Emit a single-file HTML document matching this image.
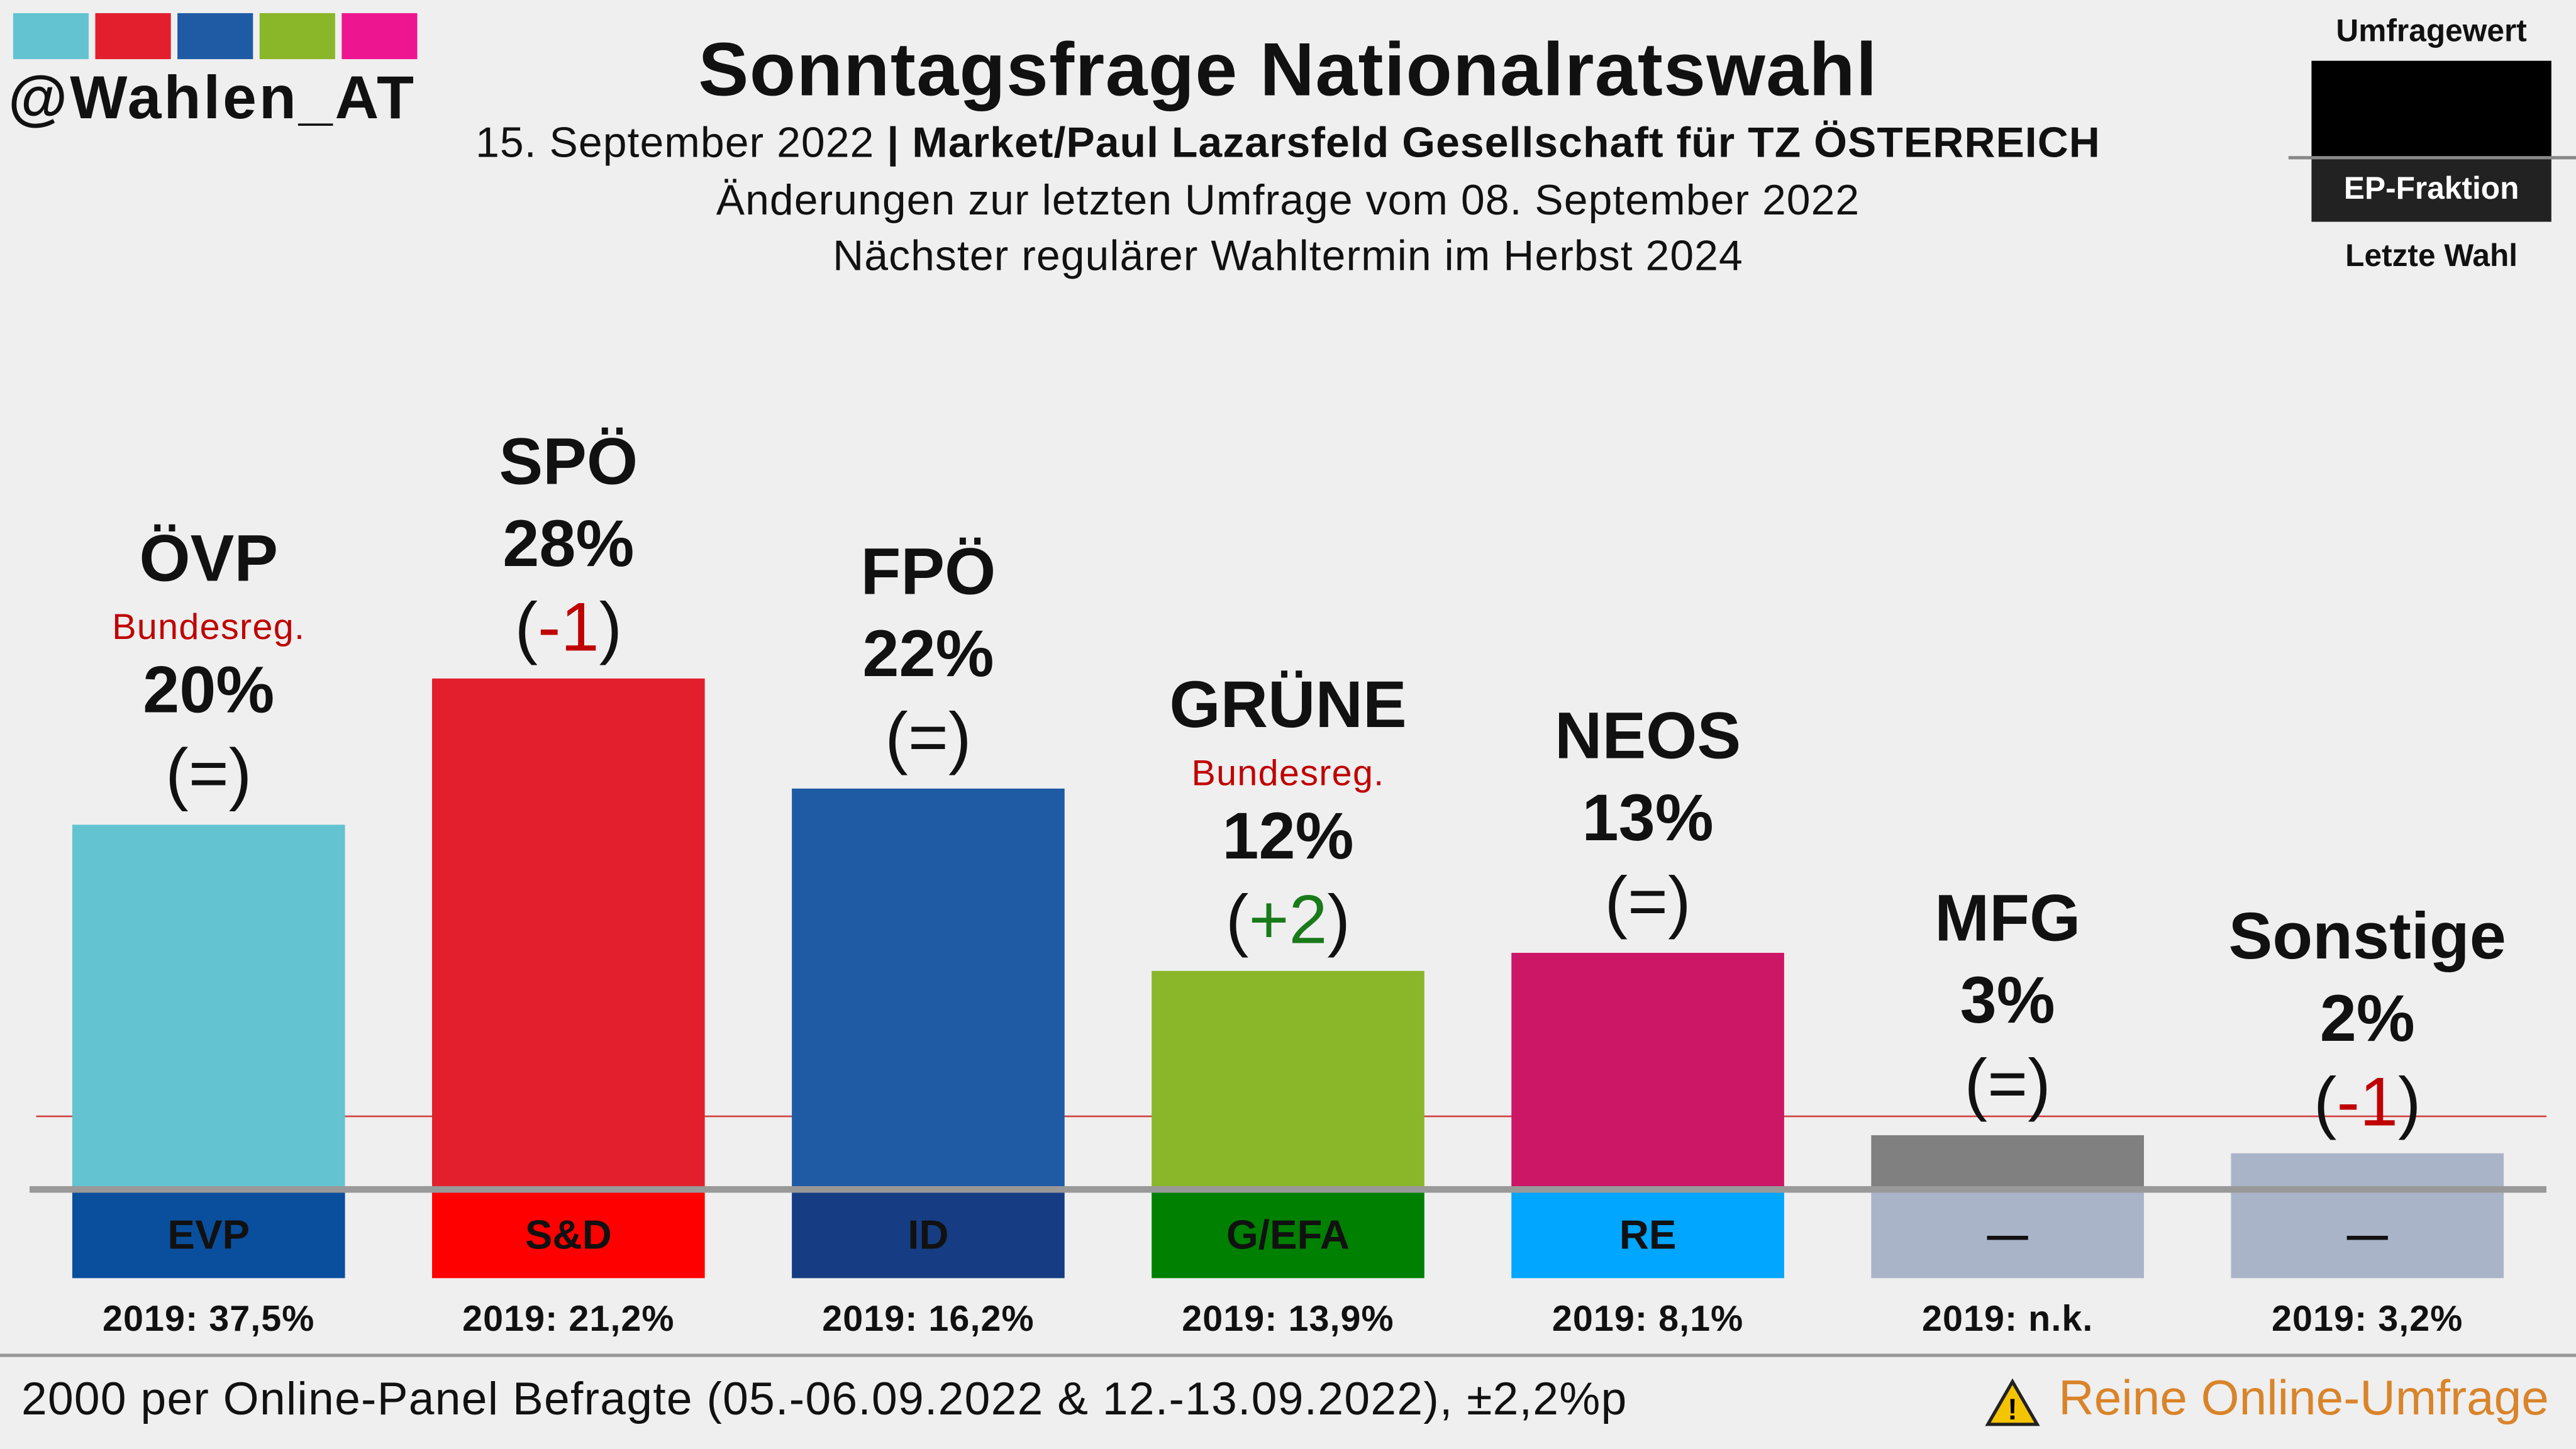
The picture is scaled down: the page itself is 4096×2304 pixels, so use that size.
<!DOCTYPE html>
<html><head><meta charset="utf-8">
<style>
html,body{margin:0;padding:0;background:#efefef;}
body{width:4096px;height:2304px;overflow:hidden;}
#stage{position:absolute;left:0;top:0;width:1568px;height:882px;transform:scale(2.612245);transform-origin:0 0;background:#efefef;font-family:"Liberation Sans",sans-serif;color:#111;}
.a{position:absolute;}
.c{position:absolute;transform:translate(-50%,-50%);white-space:nowrap;text-align:center;}
.sq{position:absolute;top:8px;width:46px;height:28px;}
</style></head><body>
<div id="stage">
  <div class="sq" style="left:8px;background:#63c3d1"></div>
  <div class="sq" style="left:58px;background:#e31f2d"></div>
  <div class="sq" style="left:108px;background:#1f5aa5"></div>
  <div class="sq" style="left:158px;background:#8ab62a"></div>
  <div class="sq" style="left:208px;background:#ee1690"></div>
  <div class="a" style="left:5px;top:39px;font-size:37px;font-weight:bold;letter-spacing:1.5px;">@Wahlen_AT</div>

  <div class="c" style="left:784px;top:42px;font-size:46px;font-weight:bold;letter-spacing:0.5px;">Sonntagsfrage Nationalratswahl</div>
  <div class="c" style="left:784px;top:87px;font-size:26px;letter-spacing:0.4px;">15. September 2022 <b>| Market/Paul Lazarsfeld Gesellschaft für TZ ÖSTERREICH</b></div>
  <div class="c" style="left:784px;top:122px;font-size:26px;letter-spacing:0.4px;">Änderungen zur letzten Umfrage vom 08. September 2022</div>
  <div class="c" style="left:784px;top:156px;font-size:26px;letter-spacing:0.4px;">Nächster regulärer Wahltermin im Herbst 2024</div>

  <div class="c" style="left:1480px;top:20px;font-size:19px;font-weight:bold;">Umfragewert</div>
  <div class="a" style="left:1407px;top:37px;width:146px;height:60px;background:#000;"></div>
  <div class="a" style="left:1393px;top:95px;width:175px;height:2px;background:#888;"></div>
  <div class="a" style="left:1407px;top:97px;width:146px;height:38px;background:#222;color:#fff;font-size:19px;font-weight:bold;line-height:38px;text-align:center;">EP-Fraktion</div>
  <div class="c" style="left:1480px;top:157px;font-size:19px;font-weight:bold;">Letzte Wahl</div>

  <div id="plot" class="a" style="left:0;top:0;width:1568px;height:882px;"></div>

  <div class="a" style="left:0;top:824px;width:1568px;height:2px;background:#999;"></div>
  <div class="a" style="left:13px;top:836px;font-size:28px;letter-spacing:0.5px;">2000 per Online-Panel Befragte (05.-06.09.2022 &amp; 12.-13.09.2022), ±2,2%p</div>
  <svg class="a" style="left:1208px;top:839px" width="34" height="30"><polygon points="17,2 32,28 2,28" fill="#f5c400" stroke="#222" stroke-width="2"/><text x="17" y="25" font-size="18" font-weight="bold" text-anchor="middle" font-family="Liberation Sans">!</text></svg>
  <div class="a" style="left:1253px;top:835px;font-size:30px;color:#d9842a;">Reine Online-Umfrage</div>
</div>
<script>
const parties=["ÖVP","SPÖ","FPÖ","GRÜNE","NEOS","MFG","Sonstige"];
const values=[20,28,22,12,13,3,2];
const changes=["=","-1","=","+2","=","=","-1"];
const govt=[true,false,false,true,false,false,false];
const epGroups=["EVP","S&D","ID","G/EFA","RE","—","—"];
const lastResults=["37,5%","21,2%","16,2%","13,9%","8,1%","n.k.","3,2%"];
const threshold=4;
const barColors=["#63c3d1","#e31f2d","#1f5aa5","#8ab62a","#cc1666","#808080","#aab4c8"];
const epColors=["#0a4f9e","#ff0000","#163d83","#008000","#00a6ff","#aab4c8","#aab4c8"];

const base=724, pxPer=11.1, x0=44, step=219, bw=166;
const yS=v=>base-v*pxPer;
const xS=i=>x0+i*step;
const plot=document.getElementById('plot');
function mk(cls,style,text){const d=document.createElement('div');d.className=cls;d.style.cssText=style;if(text!=null)d.textContent=text;plot.appendChild(d);return d;}

const th=mk('a',`left:22px;top:${yS(threshold)-0.5}px;width:1528px;height:1px;background:#d04040;`);



parties.forEach((p,i)=>{
  const x=xS(i),top=yS(values[i]),cx=x+bw/2;
  const b=mk('a',`left:${x}px;top:${top}px;width:${bw}px;height:${base-top}px;background:${barColors[i]};`);
  
  
  const e=mk('a',`left:${x}px;top:726px;width:${bw}px;height:52px;background:${epColors[i]};font-size:25px;font-weight:bold;line-height:52px;text-align:center;color:#111;`,epGroups[i]);
  
  
  const l=mk('c',`left:${cx}px;top:803px;font-size:22px;font-weight:bold;letter-spacing:0.4px;`,'2019: '+lastResults[i]);
  
  
  const ch=mk('c',`left:${cx}px;top:${top-31}px;font-size:42px;`);
  const col=changes[i]==="="?"#111":(changes[i][0]==="+"?"#1a7a1a":"#c00000");
  ch.innerHTML=`(<span style="color:${col}">${changes[i]}</span>)`;
  
  
  const v=mk('c',`left:${cx}px;top:${top-81}px;font-size:40px;font-weight:bold;`,values[i]+'%');
  
  
  let ny=top-131;
  if(govt[i]){
    const g=mk('c',`left:${cx}px;top:${top-120}px;font-size:22px;color:#c00000;letter-spacing:0.5px;`,'Bundesreg.');
    
    
    ny=top-161;
  }
  const n=mk('c',`left:${cx}px;top:${ny}px;font-size:40px;font-weight:bold;`,p);
  
  
});
const bl=mk('a',`left:18px;top:${base-2}px;width:1532px;height:4px;background:#999;`);


</script>
</body></html>
